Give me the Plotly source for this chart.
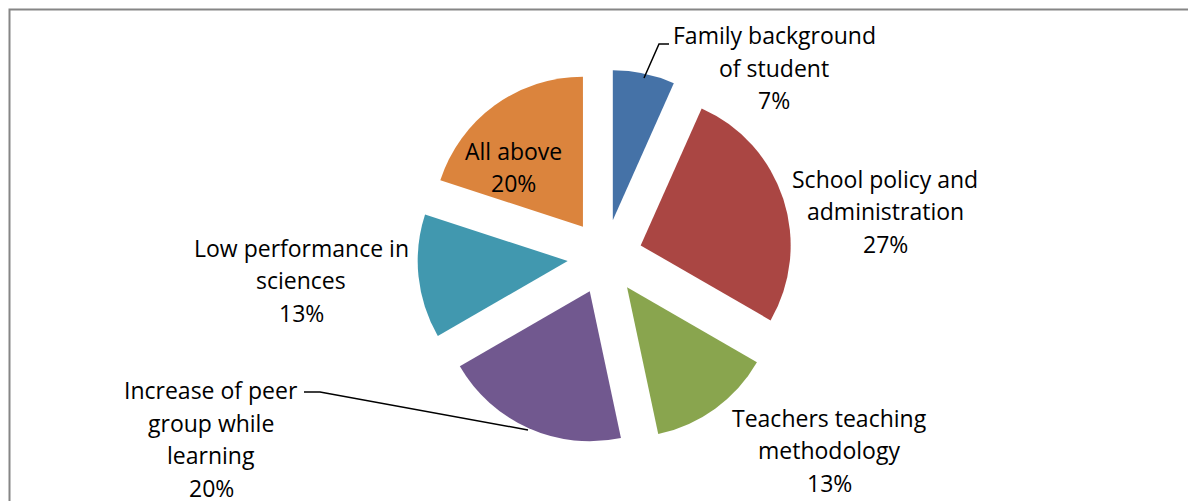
import plotly.graph_objects as go

# ---- data ----
categories = [
    "Family background of student",
    "School policy and administration",
    "Teachers teaching methodology",
    "Increase of peer group while learning",
    "Low performance in sciences",
    "All above",
]
values = [2, 8, 4, 6, 4, 6]
label_lines = [
    ["Family background", "of student"],
    ["School policy and", "administration"],
    ["Teachers teaching", "methodology"],
    ["Increase of peer", "group while", "learning"],
    ["Low performance in", "sciences"],
    ["All above"],
]

# ---- style / layout ----
W, H = 1188, 501
colors = ["#4572A7", "#AA4643", "#89A54E", "#71588F", "#4198AF", "#DB843D"]
FONT = "Open Sans"
FSIZE = 23
LINE_SP = 32.5
# label block centres in pixels (layout only)
label_pos = [(774, 68), (885, 211), (829, 450), (211, 439), (301, 280), (513, 167)]

def px(x):
    return x / W

def py(y):
    return 1 - y / H

total = sum(values)
pcts = [f"{round(v / total * 100)}%" for v in values]

fig = go.Figure(
    go.Pie(
        labels=categories,
        values=values,
        sort=False,
        direction="clockwise",
        rotation=0,
        pull=[0.25] * len(values),
        marker=dict(colors=colors, line=dict(width=0)),
        textinfo="none",
        hoverinfo="label+percent",
        showlegend=False,
        domain=dict(x=[px(417.5), px(792.5)], y=[py(444.5), py(69.5)]),
    )
)

annotations = []
for lines, pct, (cx, cy) in zip(label_lines, pcts, label_pos):
    all_lines = lines + [pct]
    n = len(all_lines)
    for i, t in enumerate(all_lines):
        yy = cy + (i - (n - 1) / 2) * LINE_SP
        annotations.append(
            dict(
                x=px(cx), y=py(yy), xref="paper", yref="paper",
                text=t, showarrow=False, xanchor="center", yanchor="middle",
                font=dict(family=FONT, size=FSIZE, color="#000000"),
            )
        )

shapes = [
    # chart frame
    dict(type="rect", xref="paper", yref="paper",
         x0=px(9.5), y0=-0.05, x1=1.05, y1=py(9.5),
         line=dict(color="#868686", width=2), fillcolor="rgba(0,0,0,0)"),
    # leader lines
    dict(type="path", xref="paper", yref="paper",
         path=f"M {px(669)},{py(44)} L {px(659)},{py(44)} L {px(644)},{py(78)}",
         line=dict(color="#000000", width=1.5)),
    dict(type="path", xref="paper", yref="paper",
         path=f"M {px(304)},{py(392)} L {px(320)},{py(392)} L {px(528)},{py(430)}",
         line=dict(color="#000000", width=1.5)),
]

fig.update_layout(
    width=W, height=H,
    margin=dict(l=0, r=0, t=0, b=0),
    paper_bgcolor="white", plot_bgcolor="white",
    annotations=annotations,
    shapes=shapes,
)

fig.write_html("out.html", config={"displayModeBar": False},
               post_script="document.body.style.margin='0';")
